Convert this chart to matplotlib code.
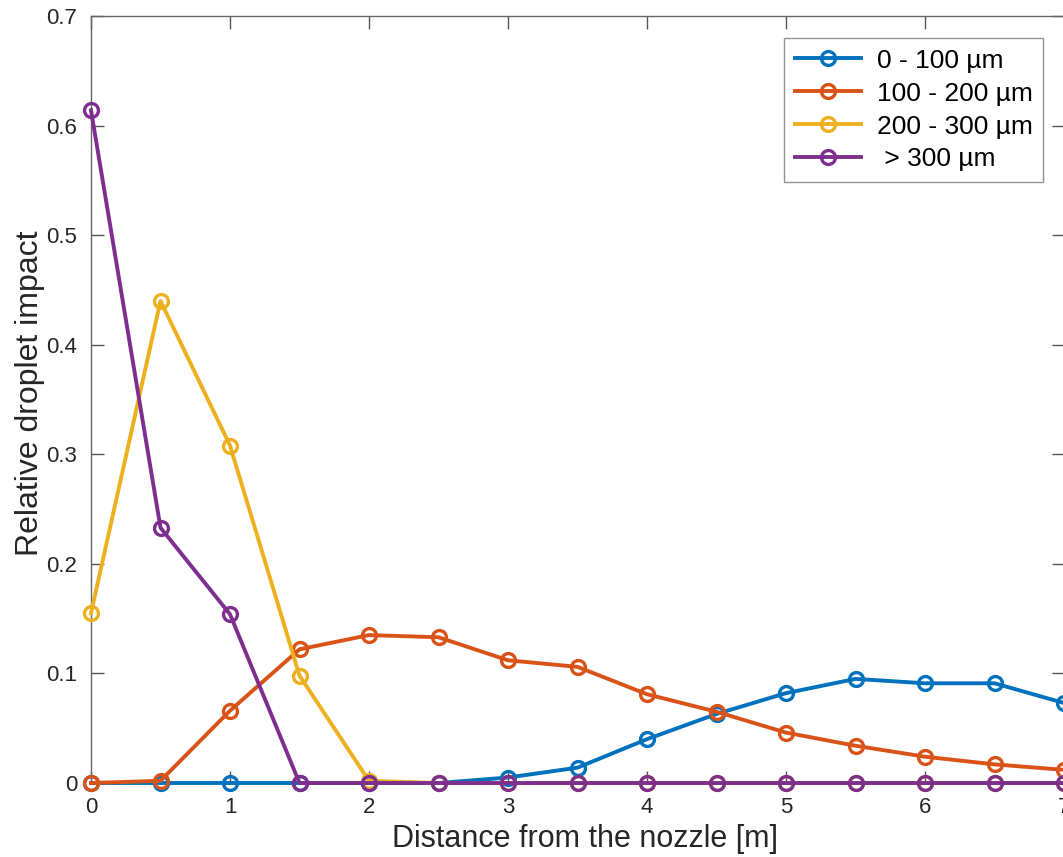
import numpy as np
import matplotlib.pyplot as plt

plt.rcParams['font.family'] = ['Liberation Sans', 'DejaVu Sans']

distance = np.arange(0, 7.01, 0.5)

d0_100 = [0, 0, 0, 0, 0, 0, 0.005, 0.014, 0.040, 0.063, 0.082, 0.095, 0.091, 0.091, 0.073]
d100_200 = [0, 0.002, 0.066, 0.122, 0.135, 0.133, 0.112, 0.106, 0.081, 0.065, 0.046, 0.034, 0.024, 0.017, 0.012]
d200_300 = [0.155, 0.440, 0.308, 0.098, 0.002, 0, 0, 0, 0, 0, 0, 0, 0, 0, 0]
d300_up = [0.614, 0.233, 0.154, 0, 0, 0, 0, 0, 0, 0, 0, 0, 0, 0, 0]

labels = ['0 - 100 µm', '100 - 200 µm', '200 - 300 µm', ' > 300 µm']
colors = ['#0072BD', '#D95319', '#EDB120', '#7E2F8E']

fig = plt.figure(figsize=(10.63, 8.57), dpi=100)
ax = fig.add_axes([91 / 1063, 74 / 857, 973 / 1063, 767 / 857])

series = [d0_100, d100_200, d200_300, d300_up]
for y, c, lab in zip(series, colors, labels):
    ax.plot(distance, y, color=c, lw=2.8, marker='o', ms=10, mfc='none',
            mew=2.4, label=lab, clip_on=False, zorder=3)

ax.set_xlim(0, 7)
ax.set_ylim(0, 0.7)
ax.set_xticks(range(8))
ax.set_yticks(np.arange(0, 0.71, 0.1))
ax.set_yticklabels(['0', '0.1', '0.2', '0.3', '0.4', '0.5', '0.6', '0.7'])

ax.tick_params(direction='in', length=9, width=1, colors='#555555',
               labelcolor='#262626', labelsize=16, top=True, right=True)
ax.tick_params(axis='x', pad=10)
ax.tick_params(axis='y', pad=10)
for s in ax.spines.values():
    s.set_color('#666666')
    s.set_linewidth(1)

ax.set_xlabel('Distance from the nozzle [m]', fontsize=22, color='#262626')
ax.set_ylabel('Relative droplet impact', fontsize=23, color='#262626')
ax.xaxis.set_label_coords(0.508, -0.054)
ax.yaxis.set_label_coords(-0.047, 0.508)

leg = ax.legend(loc='upper right', bbox_to_anchor=(1043 / 1063, 1 - 38 / 857),
                bbox_transform=fig.transFigure, fontsize=19, frameon=True,
                fancybox=False, edgecolor='#777777', handlelength=2.5,
                borderpad=0.4, labelspacing=0.34, handletextpad=0.6,
                borderaxespad=0)
leg.get_frame().set_linewidth(1)

fig.savefig('out.png', dpi=100)
